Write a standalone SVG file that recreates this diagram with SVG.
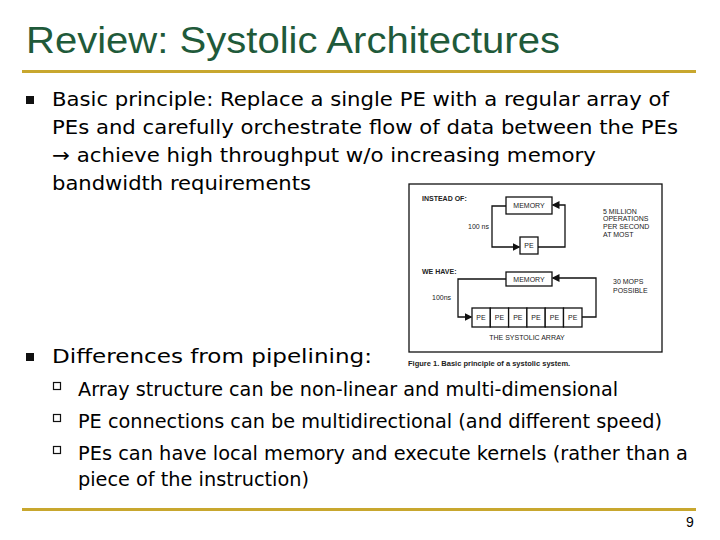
<svg xmlns="http://www.w3.org/2000/svg" width="720" height="540" viewBox="0 0 720 540">
<style>
.t{font-family:"DejaVu Sans",Verdana,sans-serif;font-size:19.5px;fill:#000}
.s{font-family:"Liberation Sans",Arial,sans-serif;fill:#222}
.b{fill:#fff;stroke:#111;stroke-width:1.3}
.l{fill:none;stroke:#111;stroke-width:1.3}
</style>
<defs><marker id="a" markerWidth="6" markerHeight="6" refX="5" refY="3" orient="auto"><path d="M0,0L6,3L0,6z" fill="#111"/></marker></defs>
<rect width="720" height="540" fill="#fff"/>
<text x="26" y="53" textLength="534" lengthAdjust="spacingAndGlyphs" style="font-family:'Liberation Sans',Arial,sans-serif;font-size:37px;fill:#1f5a3a">Review: Systolic Architectures</text>
<rect x="22" y="70" width="674" height="3" fill="#c8a72e"/>
<rect x="22" y="508" width="674" height="3" fill="#c8a72e"/>
<text x="686" y="527" class="s" style="font-size:14px;fill:#000">9</text>
<rect x="26" y="96" width="8" height="8" fill="#111"/>
<text class="t" x="52" y="106" textLength="617" lengthAdjust="spacingAndGlyphs">Basic principle: Replace a single PE with a regular array of</text>
<text class="t" x="52" y="134" textLength="626" lengthAdjust="spacingAndGlyphs">PEs and carefully orchestrate flow of data between the PEs</text>
<text class="t" x="52" y="162" textLength="544" lengthAdjust="spacingAndGlyphs">→ achieve high throughput w/o increasing memory</text>
<text class="t" x="52" y="190" textLength="259" lengthAdjust="spacingAndGlyphs">bandwidth requirements</text>
<rect x="26" y="353" width="8" height="8" fill="#111"/>
<text class="t" x="52" y="363" textLength="320" lengthAdjust="spacingAndGlyphs">Differences from pipelining:</text>
<g fill="none" stroke="#111" stroke-width="1.2">
<rect x="53.5" y="382.5" width="7" height="7"/><rect x="53.5" y="414.5" width="7" height="7"/><rect x="53.5" y="446.5" width="7" height="7"/></g>
<text class="t" x="78" y="396" textLength="540" lengthAdjust="spacingAndGlyphs">Array structure can be non-linear and multi-dimensional</text>
<text class="t" x="78" y="428" textLength="584" lengthAdjust="spacingAndGlyphs">PE connections can be multidirectional (and different speed)</text>
<text class="t" x="78" y="460" textLength="610" lengthAdjust="spacingAndGlyphs">PEs can have local memory and execute kernels (rather than a</text>
<text class="t" x="78" y="486" textLength="231" lengthAdjust="spacingAndGlyphs">piece of the instruction)</text>
<g id="figure">
<rect x="409" y="184" width="253" height="168" class="b"/>
<text x="422" y="201" class="s" style="font-size:7px;font-weight:bold">INSTEAD OF:</text>
<text x="422" y="274" class="s" style="font-size:7px;font-weight:bold">WE HAVE:</text>
<text x="408" y="366" class="s" style="font-size:7.5px;font-weight:bold">Figure 1. Basic principle of a systolic system.</text>
<text x="468" y="229" class="s" style="font-size:7px">100 ns</text>
<text x="432" y="300" class="s" style="font-size:7px">100ns</text>
<text class="s" style="font-size:7px"><tspan x="603" y="214">5 MILLION</tspan><tspan x="603" y="221">OPERATIONS</tspan><tspan x="603" y="229">PER SECOND</tspan><tspan x="603" y="237">AT MOST</tspan><tspan x="613" y="284">30 MOPS</tspan><tspan x="613" y="293">POSSIBLE</tspan></text>
<text x="527" y="340" class="s" style="font-size:7px" text-anchor="middle">THE SYSTOLIC ARRAY</text>
</g>
<g id="connectors">
<path class="l" d="M506,206H492V247H519" marker-end="url(#a)"/>
<path class="l" d="M538,247H565V205H553" marker-end="url(#a)"/>
<path class="l" d="M506,279H458V317H471" marker-end="url(#a)"/>
<path class="l" d="M582,317H596V278H553" marker-end="url(#a)"/>
</g>
<g id="mem1"><rect x="506" y="197" width="46" height="17" class="b"/><text x="529" y="208" class="s" style="font-size:7px" text-anchor="middle">MEMORY</text></g>
<g id="pe1"><rect x="520" y="237" width="18" height="17" class="b"/><text x="529" y="248" class="s" style="font-size:7px" text-anchor="middle">PE</text></g>
<g id="mem2"><rect x="506" y="272" width="46" height="14" class="b"/><text x="529" y="282" class="s" style="font-size:7px" text-anchor="middle">MEMORY</text></g>
<g id="array" font-family="Liberation Sans,Arial,sans-serif" font-size="7" text-anchor="middle" fill="#222">
<rect x="472" y="308" width="18.3" height="19" class="b"/><text x="481" y="320">PE</text>
<rect x="490.3" y="308" width="18.3" height="19" class="b"/><text x="499.5" y="320">PE</text>
<rect x="508.6" y="308" width="18.3" height="19" class="b"/><text x="517.8" y="320">PE</text>
<rect x="526.9" y="308" width="18.3" height="19" class="b"/><text x="536" y="320">PE</text>
<rect x="545.2" y="308" width="18.3" height="19" class="b"/><text x="554.4" y="320">PE</text>
<rect x="563.5" y="308" width="18.5" height="19" class="b"/><text x="572.7" y="320">PE</text>
</g>
</svg>
